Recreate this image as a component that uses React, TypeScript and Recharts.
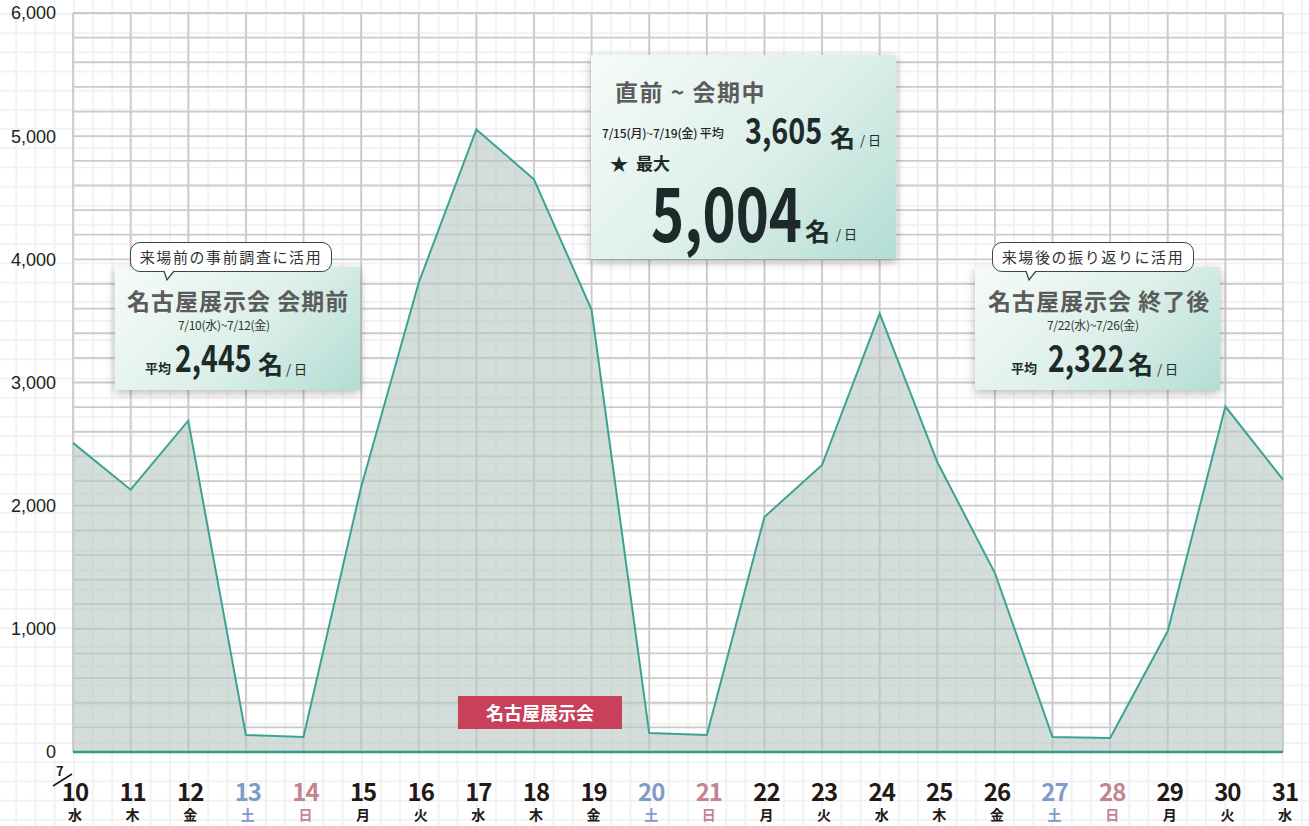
import React from 'react';
import { AreaChart, Area, XAxis, YAxis, CartesianGrid } from 'recharts';

// 7月の日付・曜日・来場者数（名）
const days = ['10', '11', '12', '13', '14', '15', '16', '17', '18', '19', '20', '21', '22', '23', '24', '25', '26', '27', '28', '29', '30', '31'];
const weekdays = ['水', '木', '金', '土', '日', '月', '火', '水', '木', '金', '土', '日', '月', '火', '水', '木', '金', '土', '日', '月', '火', '水'];
const visitors = [2510, 2130, 2690, 138, 122, 2150, 3810, 5055, 4650, 3590, 154, 138, 1908, 2330, 3560, 2354, 1453, 122, 114, 982, 2805, 2212];
const yTicks = [0, 1000, 2000, 3000, 4000, 5000, 6000];
const gridValues = Array.from({ length: 31 }, (_, i) => i * 200);

const chartData = days.map((d, i) => ({ day: d, week: weekdays[i], count: visitors[i] }));

const JP = '"Noto Sans CJK JP", "Noto Sans", sans-serif';

const dayColor = (w: string) => (w === '土' ? '#7f9bc9' : w === '日' ? '#c48391' : '#231815');

const DayTick = ({ x, y, payload, index }: any) => {
  const w = weekdays[index];
  const c = dayColor(w);
  return (
    <g>
      <text x={x + 2} y={y + 49} textAnchor="middle" fill={c} fontFamily={JP} fontWeight={700} fontSize={24} letterSpacing={-1}>
        {payload.value}
      </text>
      <text x={x + 2} y={y + 68} textAnchor="middle" fill={c} fontFamily={JP} fontWeight={700} fontSize={14}>
        {w}
      </text>
    </g>
  );
};

const T = ({ left, top, size, weight = 700, color = '#1e2a2a', spacing = 0, scale = 1, children }: any) => (
  <div
    style={{
      position: 'absolute',
      left,
      top,
      fontSize: size,
      fontWeight: weight,
      color,
      letterSpacing: spacing,
      lineHeight: 1,
      whiteSpace: 'nowrap',
      fontFamily: JP,
      transform: scale !== 1 ? `scaleX(${scale})` : undefined,
      transformOrigin: 'left top',
    }}
  >
    {children}
  </div>
);

const boxStyle = (left: number, top: number, width: number, height: number): React.CSSProperties => ({
  position: 'absolute',
  left,
  top,
  width,
  height,
  background: 'linear-gradient(135deg, #f6fbf9 0%, #dcefe9 55%, #b2ddd3 100%)',
  boxShadow: '0 3px 9px rgba(0,0,0,0.28)',
});

const Bubble = ({ left, top, text, tailX }: any) => (
  <>
    <div
      style={{
        position: 'absolute',
        left,
        top,
        width: 200,
        height: 28,
        border: '1.3px solid #2f4b50',
        borderRadius: 10,
        background: '#fff',
        fontFamily: JP,
        fontSize: 15,
        color: '#333',
        letterSpacing: 1.6,
        lineHeight: '28px',
        textAlign: 'center',
      }}
    >
      {text}
    </div>
    <svg style={{ position: 'absolute', left: left + tailX, top: top + 28 }} width={14} height={12}>
      <path d="M1,1 L4,10 L11,1" fill="#fff" stroke="#2f4b50" strokeWidth={1.3} />
      <rect x={1.8} y={0} width={8.5} height={1.2} fill="#fff" />
    </svg>
  </>
);

const App: React.FC = () => {
  return (
    <div
      style={{
        position: 'absolute',
        left: 0,
        top: 0,
        width: 1309,
        height: 826,
        backgroundColor: '#fff',
        backgroundImage:
          'linear-gradient(to right, #f2f2f2 1.5px, transparent 1.5px), linear-gradient(to bottom, #f2f2f2 1.5px, transparent 1.5px)',
        backgroundSize: '19.2px 19.2px',
        backgroundPosition: '15.4px 13px',
        overflow: 'hidden',
      }}
    >
      <AreaChart width={1309} height={826} data={chartData} margin={{ top: 13, right: 26, left: 13, bottom: 0 }}>
        <CartesianGrid stroke="#cacaca" strokeWidth={1.8} horizontalValues={gridValues} />
        <XAxis
          dataKey="day"
          interval={0}
          height={74}
          tickLine={false}
          tickSize={0}
          tickMargin={0}
          axisLine={{ stroke: '#2f9a89', strokeWidth: 2.5 }}
          tick={<DayTick />}
        />
        <YAxis
          width={60}
          domain={[0, 6000]}
          ticks={yTicks}
          axisLine={false}
          tickLine={false}
          tickSize={0}
          tickMargin={17}
          tickFormatter={(v: number) => v.toLocaleString('en-US')}
          tick={{ fill: '#222', fontSize: 18, fontFamily: '"Liberation Sans", Arial, sans-serif' }}
        />
        <Area
          type="linear"
          dataKey="count"
          stroke="#3aa394"
          strokeWidth={2}
          fill="#b5c8c1"
          fillOpacity={0.6}
          isAnimationActive={false}
          dot={false}
          activeDot={false}
        />
      </AreaChart>

      {/* 7/ marker */}
      <T left={56} top={764} size={13} color="#231815">7</T>
      <svg style={{ position: 'absolute', left: 50, top: 770 }} width={26} height={20}>
        <line x1={3} y1={16} x2={22} y2={4} stroke="#231815" strokeWidth={1.6} />
      </svg>

      {/* 会期前 */}
      <div style={boxStyle(115, 267, 245, 123)} />
      <Bubble left={130} top={242} text="来場前の事前調査に活用" tailX={33} />
      <T left={127} top={289} size={23} color="#5b5b5b" spacing={1}>名古屋展示会 会期前</T>
      <T left={178} top={319} size={12} weight={400} color="#333" spacing={-0.3}>7/10(水)~7/12(金)</T>
      <T left={145} top={361} size={13}>平均</T>
      <T left={175} top={338} size={37} scale={0.77}>2,445</T>
      <T left={258} top={351} size={25}>名</T>
      <T left={286} top={362} size={13} weight={400}>/ 日</T>

      {/* 直前〜会期中 */}
      <div style={boxStyle(591, 55, 305, 204)} />
      <T left={615} top={80} size={23} color="#5b5b5b" spacing={1.5}>直前 ~ 会期中</T>
      <T left={602} top={127} size={12} weight={500} color="#222" spacing={-0.2}>7/15(月)~7/19(金) 平均</T>
      <T left={745} top={110} size={36} scale={0.8}>3,605</T>
      <T left={830} top={124} size={25}>名</T>
      <T left={860} top={133} size={13} weight={400}>/ 日</T>
      <T left={610} top={154} size={18}>★</T>
      <T left={636} top={154} size={17}>最大</T>
      <T left={651} top={172} size={75} scale={0.75}>5,004</T>
      <T left={805} top={218} size={25}>名</T>
      <T left={836} top={227} size={13} weight={400}>/ 日</T>

      {/* 終了後 */}
      <div style={boxStyle(975, 267, 245, 123)} />
      <Bubble left={992} top={242} text="来場後の振り返りに活用" tailX={33} />
      <T left={988} top={289} size={23} color="#5b5b5b" spacing={1}>名古屋展示会 終了後</T>
      <T left={1047} top={319} size={12} weight={400} color="#333" spacing={-0.3}>7/22(水)~7/26(金)</T>
      <T left={1011} top={361} size={13}>平均</T>
      <T left={1048} top={338} size={37} scale={0.77}>2,322</T>
      <T left={1128} top={351} size={25}>名</T>
      <T left={1157} top={362} size={13} weight={400}>/ 日</T>

      {/* 会期ラベル */}
      <div
        style={{
          position: 'absolute',
          left: 458,
          top: 696,
          width: 164,
          height: 33,
          background: '#c8405a',
          color: '#fff',
          fontFamily: JP,
          fontWeight: 700,
          fontSize: 18,
          lineHeight: '33px',
          textAlign: 'center',
        }}
      >
        名古屋展示会
      </div>
    </div>
  );
};

export default App;
